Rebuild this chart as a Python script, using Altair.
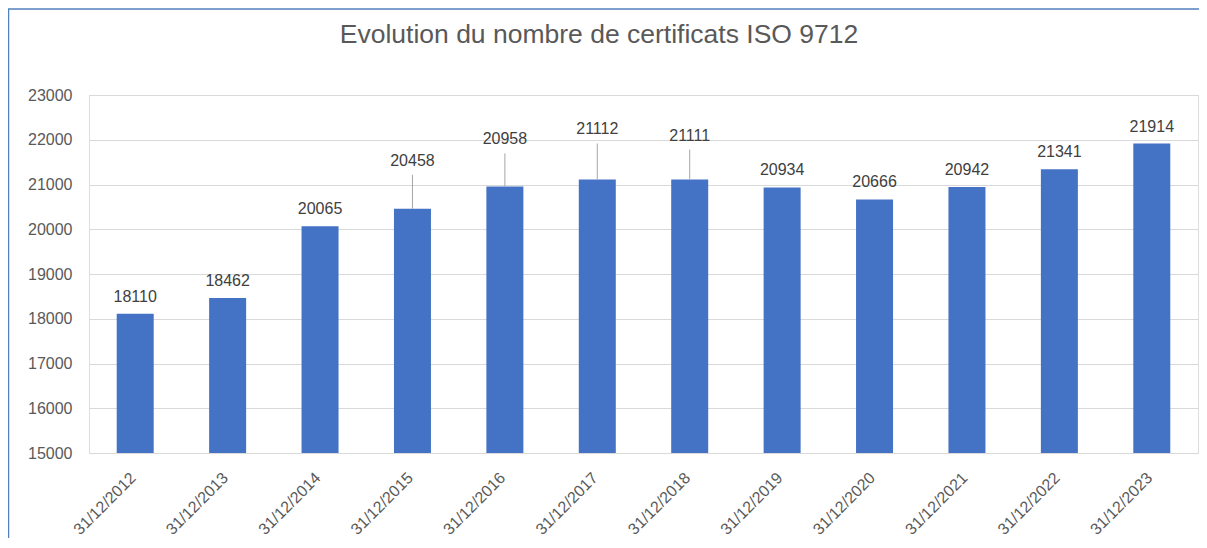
import altair as alt
import pandas as pd

# ---- data ----
dates = ["31/12/2012", "31/12/2013", "31/12/2014", "31/12/2015", "31/12/2016", "31/12/2017",
         "31/12/2018", "31/12/2019", "31/12/2020", "31/12/2021", "31/12/2022", "31/12/2023"]
counts = [18110, 18462, 20065, 20458, 20958, 21112, 21111, 20934, 20666, 20942, 21341, 21914]
y_ticks = [15000, 16000, 17000, 18000, 19000, 20000, 21000, 22000, 23000]
title_text = "Evolution du nombre de certificats ISO 9712"

# ---- style: labels pulled up with a leader line (pixels above the bar top) ----
LEADER_LIFT = {"31/12/2015": 48, "31/12/2016": 47, "31/12/2017": 50, "31/12/2018": 44}
NORMAL_LIFT = 17

df = pd.DataFrame({"date": dates, "count": counts})

W, H = 1109, 358
FONT = "Liberation Sans"
TXT = "#595959"
BLUE = "#4472C4"

x_enc = alt.X("date:N", sort=dates, title=None,
              scale=alt.Scale(paddingInner=0.6, paddingOuter=0.3),
              axis=alt.Axis(labelAngle=-45, labelAlign="right", labelBaseline="middle",
                            labelPadding=22, labelOffset=-2, ticks=False, domain=False,
                            labelFont=FONT, labelFontSize=16, labelColor=TXT))
y_enc = alt.Y("count:Q", title=None,
              scale=alt.Scale(domain=[15000, 23000], nice=False, zero=False),
              axis=alt.Axis(values=y_ticks, format="d", ticks=False, domain=False, labelPadding=17,
                            labelFont=FONT, labelFontSize=16, labelColor=TXT,
                            gridColor="#D9D9D9", gridWidth=1))

base = alt.Chart(df)

bars = base.mark_bar(color=BLUE, size=37, clip=True).encode(x=x_enc, y=y_enc)

normal = [d for d in dates if d not in LEADER_LIFT]
normal_labels = base.mark_text(baseline="middle", dy=-NORMAL_LIFT, font=FONT,
                               fontSize=16, color="#404040").encode(
    x=alt.X("date:N", sort=dates), y="count:Q", text="count:Q"
).transform_filter(alt.FieldOneOfPredicate(field="date", oneOf=normal))

layers = [bars, normal_labels]
for d, lift in LEADER_LIFT.items():
    sub = base.transform_filter(alt.FieldEqualPredicate(field="date", equal=d))
    layers.append(sub.mark_rule(color="#A6A6A6", strokeWidth=1, y2Offset=-(lift - 14)).encode(
        x=alt.X("date:N", sort=dates), y="count:Q", y2="count:Q"))
    layers.append(sub.mark_text(baseline="middle", dy=-lift, font=FONT, fontSize=16,
                                color="#404040").encode(
        x=alt.X("date:N", sort=dates), y="count:Q", text="count:Q"))

one = pd.DataFrame({"t": [title_text]})
title = alt.Chart(one).mark_text(font=FONT, fontSize=26.5, color=TXT, baseline="alphabetic",
                                 align="center").encode(
    x=alt.value(599 - 89), y=alt.value(-52), text="t:N")

# outer frame of the chart (left and top edges)
frame_left = alt.Chart(one).mark_rule(color="#4F81BD", strokeWidth=1.5).encode(
    x=alt.value(-80.5), y=alt.value(-86), y2=alt.value(H + 90))
frame_top = alt.Chart(one).mark_rule(color="#4F81BD", strokeWidth=1.5).encode(
    x=alt.value(-81), x2=alt.value(W + 6), y=alt.value(-86))
layers += [title, frame_left, frame_top]

chart = alt.layer(*layers).properties(
    width=W, height=H,
    autosize=alt.AutoSizeParams(type="none"),
    padding={"left": 81, "top": 87, "right": 1, "bottom": 85},
).configure_view(stroke="#5B87D0", strokeWidth=1.2).configure(background="white")

chart.save("out.html", embed_options={"renderer": "svg", "actions": False})
